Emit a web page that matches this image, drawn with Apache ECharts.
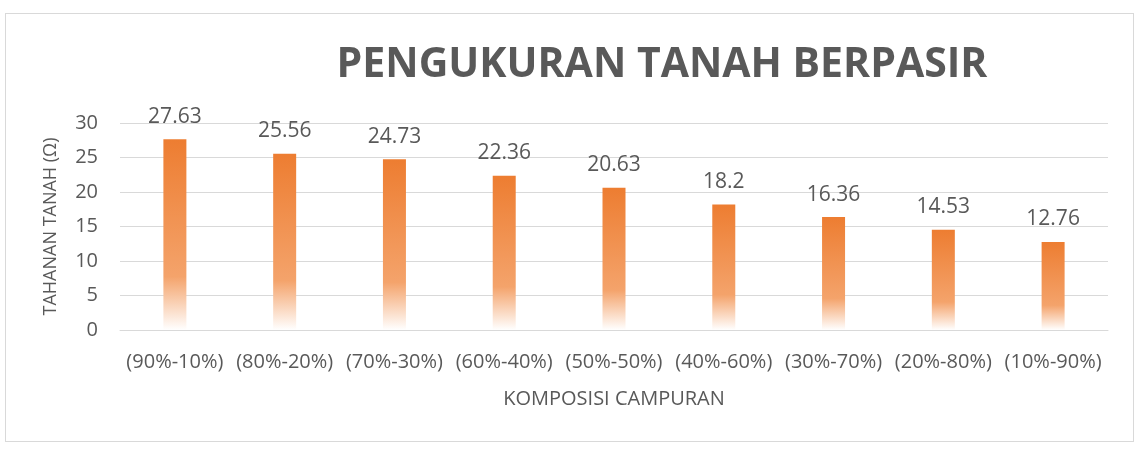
<!DOCTYPE html>
<html>
<head>
<meta charset="utf-8">
<script src="https://cdn.jsdelivr.net/npm/echarts@6/dist/echarts.min.js"></script>
<style>
  html, body { margin: 0; padding: 0; background: #fff; }
  #frame { position: absolute; left: 5px; top: 13px; width: 1129px; height: 429px; border: 1px solid #d9d9d9; box-sizing: border-box; }
  #chart { width: 1142px; height: 449px; }
</style>
</head>
<body>
<div id="frame"></div>
<div id="chart"></div>
<script>
// kategori komposisi campuran
var categories = ['(90%-10%)', '(80%-20%)', '(70%-30%)', '(60%-40%)', '(50%-50%)', '(40%-60%)', '(30%-70%)', '(20%-80%)', '(10%-90%)'];
// tahanan tanah (ohm)
var values = [27.63, 25.56, 24.73, 22.36, 20.63, 18.2, 16.36, 14.53, 12.76];
var yTicks = [0, 5, 10, 15, 20, 25, 30];

var font = '"Open Sans", sans-serif';
var chart = echarts.init(document.getElementById('chart'));
chart.setOption({
  animation: false,
  backgroundColor: 'transparent',
  title: {
    text: 'PENGUKURAN TANAH BERPASIR',
    left: 657,
    textAlign: 'center',
    top: 40,
    textStyle: { fontFamily: font, fontSize: 41, fontWeight: 'bold', color: '#595959' }
  },
  grid: { left: 120, right: 34, top: 123, bottom: 119 },
  xAxis: {
    type: 'category',
    data: categories,
    name: 'KOMPOSISI CAMPURAN',
    nameLocation: 'middle',
    nameGap: 59,
    nameTextStyle: { fontFamily: font, fontSize: 20, color: '#595959' },
    axisLine: { lineStyle: { color: '#d9d9d9' } },
    axisTick: { show: false },
    axisLabel: { fontFamily: font, fontSize: 20, color: '#595959', margin: 22, interval: 0 }
  },
  yAxis: {
    type: 'value',
    min: yTicks[0],
    max: yTicks[yTicks.length - 1],
    interval: 5,
    name: 'TAHANAN TANAH (Ω)',
    nameLocation: 'middle',
    nameGap: 60,
    nameTextStyle: { fontFamily: font, fontSize: 18, color: '#595959' },
    axisLine: { show: false },
    axisTick: { show: false },
    axisLabel: { fontFamily: font, fontSize: 20, color: '#595959', margin: 22 },
    splitLine: { lineStyle: { color: '#d9d9d9', width: 1 } }
  },
  series: [{
    type: 'bar',
    data: values,
    barWidth: 23,
    itemStyle: {
      color: new echarts.graphic.LinearGradient(0, 0, 0, 1, [
        { offset: 0, color: '#ED7D31' },
        { offset: 0.72, color: '#F4A36B' },
        { offset: 1, color: '#FFFFFF' }
      ])
    },
    label: {
      show: true,
      position: 'top',
      distance: 12,
      fontFamily: font,
      fontSize: 21,
      color: '#595959'
    }
  }]
});
</script>
</body>
</html>
